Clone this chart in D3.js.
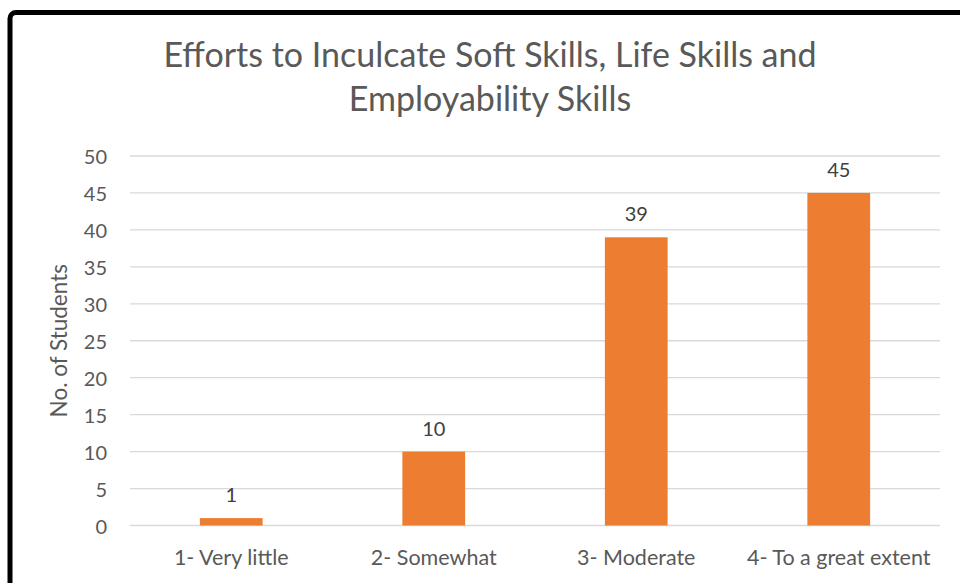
<!DOCTYPE html>
<html>
<head>
<meta charset="utf-8">
<script src="https://cdn.jsdelivr.net/npm/d3@7"></script>
<style>
  body { margin: 0; background: #fff; }
  svg { display: block; font-family: Lato, "Open Sans", sans-serif; }
</style>
</head>
<body>
<script>
// data
var categories = ["1- Very little", "2- Somewhat", "3- Moderate", "4- To a great extent"];
var students = [1, 10, 39, 45];
var yTicks = [0, 5, 10, 15, 20, 25, 30, 35, 40, 45, 50];
var titleLines = ["Efforts to Inculcate Soft Skills, Life Skills and", "Employability Skills"];

var width = 960, height = 583;
var plotLeft = 130, plotRight = 940, plotTop = 156, plotBottom = 525.5;
var font = "Lato, 'Open Sans', sans-serif";

var svg = d3.select("body").append("svg")
  .attr("width", width)
  .attr("height", height);

// frame (cut off at right and bottom)
svg.append("rect")
  .attr("x", 10).attr("y", 12.5)
  .attr("width", 1000).attr("height", 640)
  .attr("rx", 6)
  .attr("fill", "#fff")
  .attr("stroke", "#000")
  .attr("stroke-width", 5);

var x = d3.scaleBand()
  .domain(categories)
  .range([plotLeft, plotRight])
  .paddingInner(0.69)
  .paddingOuter(0.345);

var y = d3.scaleLinear()
  .domain([0, 50])
  .range([plotBottom, plotTop]);

// gridlines
svg.append("g")
  .selectAll("line")
  .data(yTicks)
  .enter()
  .append("line")
    .attr("x1", plotLeft).attr("x2", plotRight)
    .attr("y1", function(d) { return y(d); })
    .attr("y2", function(d) { return y(d); })
    .attr("stroke", "#d9d9d9")
    .attr("stroke-width", 1.3);

// y axis labels
var yAxis = svg.append("g")
  .attr("transform", "translate(" + (plotLeft - 12) + ",0)")
  .call(d3.axisLeft(y).tickValues(yTicks).tickSize(0).tickPadding(11));
yAxis.select(".domain").remove();
yAxis.attr("font-family", font).attr("font-size", 20);
yAxis.selectAll("text").attr("fill", "#595959").attr("dy", "0.38em");

// bars
svg.append("g")
  .selectAll("rect")
  .data(students)
  .enter()
  .append("rect")
    .attr("x", function(d, i) { return x(categories[i]); })
    .attr("y", function(d) { return y(d); })
    .attr("width", x.bandwidth())
    .attr("height", function(d) { return y(0) - y(d); })
    .attr("fill", "#ed7d31");

// value labels
svg.append("g")
  .selectAll("text")
  .data(students)
  .enter()
  .append("text")
    .attr("x", function(d, i) { return x(categories[i]) + x.bandwidth() / 2; })
    .attr("y", function(d) { return y(d) - 16; })
    .attr("text-anchor", "middle")
    .attr("fill", "#404040")
    .style("font-size", "20px")
    .text(function(d) { return d; });

// x axis labels
var xAxis = svg.append("g")
  .attr("transform", "translate(0," + plotBottom + ")")
  .call(d3.axisBottom(x).tickSize(0).tickPadding(24));
xAxis.select(".domain").remove();
xAxis.attr("font-family", font).attr("font-size", 21.5);
xAxis.selectAll("text").attr("fill", "#595959");

// y axis title
svg.append("text")
  .attr("transform", "translate(67," + ((plotTop + plotBottom) / 2) + ") rotate(-90)")
  .attr("text-anchor", "middle")
  .attr("fill", "#595959")
  .style("font-size", "22.5px")
  .text("No. of Students");

// chart title
svg.append("g")
  .selectAll("text")
  .data(titleLines)
  .enter()
  .append("text")
    .attr("x", 490)
    .attr("y", function(d, i) { return 67 + i * 44; })
    .attr("text-anchor", "middle")
    .attr("fill", "#595959")
    .style("font-size", "34px")
    .text(function(d) { return d; });
</script>
</body>
</html>
